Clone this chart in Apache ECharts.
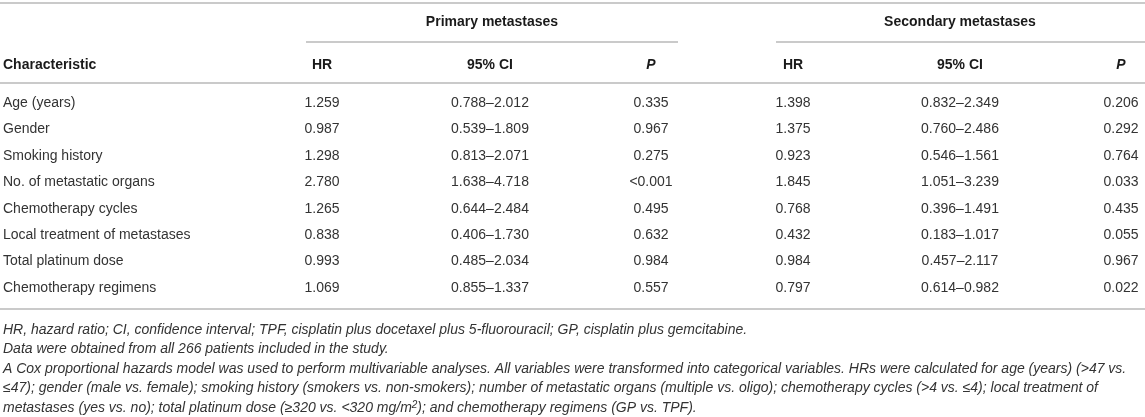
<!DOCTYPE html>
<html>
<head>
<meta charset="utf-8">
<script src="https://cdn.jsdelivr.net/npm/echarts@6/dist/echarts.min.js"></script>
<style>
  html, body { margin: 0; padding: 0; background: #fff; }
  #main { width: 1145px; height: 417px; }
</style>
</head>
<body>
<div id="main"></div>
<script>
// table values
const characteristics = [
  "Age (years)", "Gender", "Smoking history", "No. of metastatic organs",
  "Chemotherapy cycles", "Local treatment of metastases", "Total platinum dose",
  "Chemotherapy regimens"
];
const primaryHR = [1.259, 0.987, 1.298, 2.780, 1.265, 0.838, 0.993, 1.069];
const primaryLow = [0.788, 0.539, 0.813, 1.638, 0.644, 0.406, 0.485, 0.855];
const primaryHigh = [2.012, 1.809, 2.071, 4.718, 2.484, 1.730, 2.034, 1.337];
const primaryP = ["0.335", "0.967", "0.275", "<0.001", "0.495", "0.632", "0.984", "0.557"];
const secondaryHR = [1.398, 1.375, 0.923, 1.845, 0.768, 0.432, 0.984, 0.797];
const secondaryLow = [0.832, 0.760, 0.546, 1.051, 0.396, 0.183, 0.457, 0.614];
const secondaryHigh = [2.349, 2.486, 1.561, 3.239, 1.491, 1.017, 2.117, 0.982];
const secondaryP = ["0.206", "0.292", "0.764", "0.033", "0.435", "0.055", "0.967", "0.022"];

const groupTitles = ["Primary metastases", "Secondary metastases"];
const columnTitles = ["HR", "95% CI", "P"];

// column centres (px), layout only
const colX = [322, 490, 651, 793, 960, 1121];
const FONT = '"Liberation Sans", Arial, sans-serif';
const TEXT = "#333";
const HEAD = "#1a1a1a";
const RULE = "#b8b8b8";

const chart = echarts.init(document.getElementById("main"), null, { renderer: "canvas" });

const fmt = v => v.toFixed(3);
const ci = (lo, hi) => fmt(lo) + "\u2013" + fmt(hi);

function renderRow(params, api) {
  const i = api.value(0);
  const y = api.coord([0, i])[1];
  const cells = [
    fmt(primaryHR[i]), ci(primaryLow[i], primaryHigh[i]), primaryP[i],
    fmt(secondaryHR[i]), ci(secondaryLow[i], secondaryHigh[i]), secondaryP[i]
  ];
  const children = [{
    type: "text", x: 3, y: y,
    style: { text: characteristics[i], font: "14px " + FONT, fill: TEXT, align: "left", verticalAlign: "middle" }
  }];
  cells.forEach((t, c) => {
    children.push({
      type: "text", x: colX[c], y: y,
      style: { text: t, font: "14px " + FONT, fill: TEXT, align: "center", verticalAlign: "middle" }
    });
  });
  return { type: "group", children: children };
}

// header, rules and footnotes
const graphics = [];
const line = (x1, x2, y) => graphics.push({
  type: "line", shape: { x1: x1, y1: y, x2: x2, y2: y },
  style: { stroke: RULE, lineWidth: 1.5 }, silent: true
});
const txt = (s, x, y, font, align, color) => graphics.push({
  type: "text", x: x, y: y, silent: true,
  style: { text: s, font: font, fill: color || HEAD, align: align || "center", verticalAlign: "middle" }
});

line(0, 1145, 3);
line(306, 678, 42);
line(776, 1145, 42);
line(0, 1145, 83);
line(0, 1145, 309);

txt(groupTitles[0], 492, 22, "bold 14px " + FONT);
txt(groupTitles[1], 960, 22, "bold 14px " + FONT);
txt("Characteristic", 3, 65, "bold 14px " + FONT, "left");
colX.forEach((x, c) => {
  const t = columnTitles[c % 3];
  txt(t, x, 65, (t === "P" ? "italic bold 14px " : "bold 14px ") + FONT);
});

const notes = [
  "HR, hazard ratio; CI, confidence interval; TPF, cisplatin plus docetaxel plus 5-fluorouracil; GP, cisplatin plus gemcitabine.",
  "Data were obtained from all 266 patients included in the study.",
  "A Cox proportional hazards model was used to perform multivariable analyses. All variables were transformed into categorical variables. HRs were calculated for age (years) (>47 vs.",
  "\u226447); gender (male vs. female); smoking history (smokers vs. non-smokers); number of metastatic organs (multiple vs. oligo); chemotherapy cycles (>4 vs. \u22644); local treatment of"
];
const noteY = [330, 349.5, 369, 388.5, 408];
notes.forEach((n, k) => txt(n, 3, noteY[k], "italic 14px " + FONT, "left", TEXT));
graphics.push({
  type: "text", x: 3, y: noteY[4], silent: true,
  style: {
    text: "{i|metastases (yes vs. no); total platinum dose (\u2265320 vs. <320 mg/m}{s|2}{i|); and chemotherapy regimens (GP vs. TPF).}",
    fill: TEXT, align: "left", verticalAlign: "middle",
    rich: {
      i: { font: "italic 14px " + FONT, fill: TEXT },
      s: { font: "italic 10px " + FONT, fill: TEXT, verticalAlign: "top", padding: [0, 0, 6, 0] }
    }
  }
});

const option = {
  animation: false,
  backgroundColor: "#fff",
  grid: { left: 0, right: 0, top: 89.8, bottom: 115.8 },
  xAxis: { type: "value", min: 0, max: 1145, show: false },
  yAxis: {
    type: "category", inverse: true, show: false,
    data: characteristics.map((_, i) => i)
  },
  series: [{
    type: "custom",
    renderItem: renderRow,
    data: characteristics.map((_, i) => [i]),
    encode: { y: 0 }
  }],
  graphic: graphics
};
chart.setOption(option);
</script>
</body>
</html>
